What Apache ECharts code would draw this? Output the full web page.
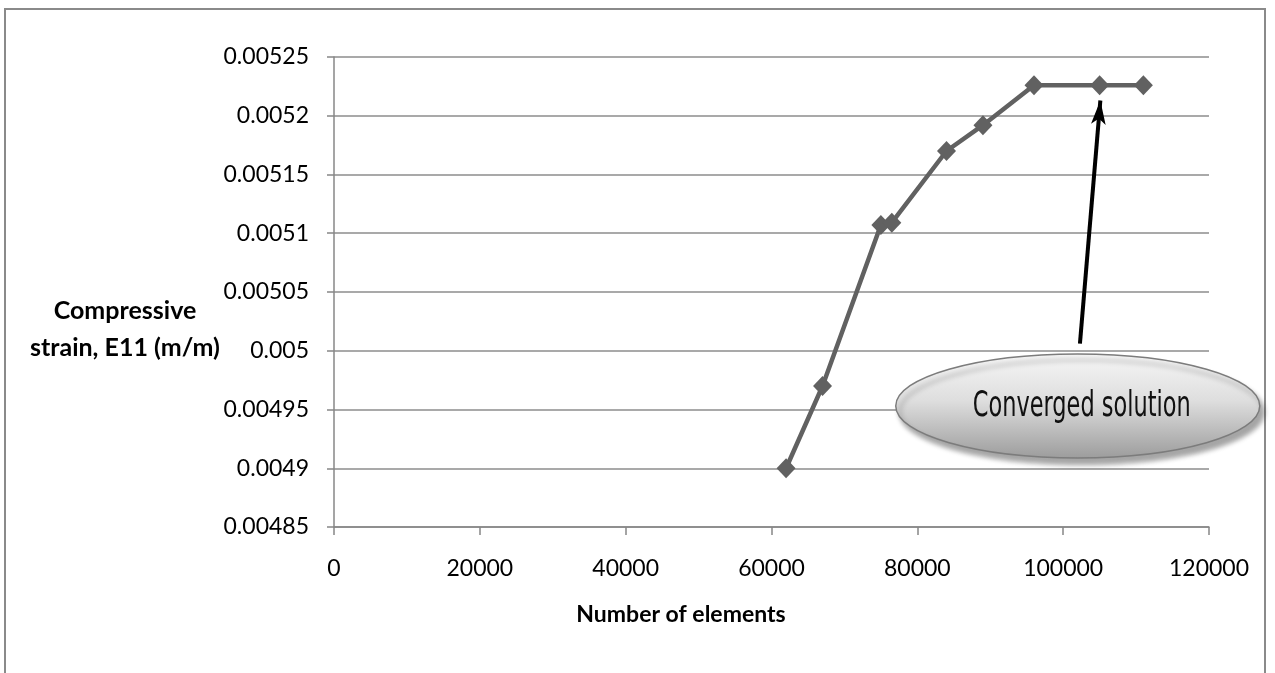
<!DOCTYPE html>
<html>
<head>
<meta charset="utf-8">
<script src="https://cdn.jsdelivr.net/npm/echarts@6/dist/echarts.min.js"></script>
<style>
  html, body { margin: 0; padding: 0; background: #ffffff; }
  #chart { width: 1275px; height: 673px; }
</style>
</head>
<body>
<div id="chart"></div>
<script>
// Mesh convergence study: compressive strain against element count
const elementCounts = [62000, 67000, 75000, 76500, 84000, 89000, 96000, 105000, 111000];
const strainValues  = [0.00490, 0.00497, 0.005107, 0.005109, 0.00517, 0.005192, 0.005226, 0.005226, 0.005226];

const xMin = 0, xMax = 120000, xStep = 20000;
const yMin = 0.00485, yMax = 0.00525, yStep = 0.00005;

const xAxisTitle = 'Number of elements';
const yAxisTitle = ['Compressive', 'strain, E11 (m/m)'];

// Callout: arrow pointing at the plateau and its bubble
const noteText = 'Converged solution';
const arrowFrom = [102300, 0.005006];
const arrowTo   = [105100, 0.005213];
const noteCenter = [102000, 0.004953];

const FONT = 'Lato, "Open Sans", sans-serif';

const chart = echarts.init(document.getElementById('chart'), null, { renderer: 'canvas' });

function fmtY(v) {
  return String(parseFloat(v.toFixed(6)));
}
function fmtX(v) {
  return String(Math.round(v));
}

chart.setOption({
  animation: false,
  backgroundColor: '#ffffff',
  grid: { left: 334, right: 66, top: 57, bottom: 146, containLabel: false },
  xAxis: {
    type: 'value',
    min: xMin, max: xMax, interval: xStep,
    axisLine: { show: true, lineStyle: { color: '#878787', width: 1.5 } },
    axisTick: { show: true, inside: false, length: 8, lineStyle: { color: '#878787', width: 1.5 } },
    axisLabel: { fontFamily: FONT, fontSize: 23, color: '#000', margin: 30, formatter: fmtX },
    splitLine: { show: false }
  },
  yAxis: {
    type: 'value',
    min: yMin, max: yMax, interval: yStep,
    axisLine: { show: true, lineStyle: { color: '#878787', width: 1.5 } },
    axisTick: { show: true, inside: false, length: 7, lineStyle: { color: '#878787', width: 1.5 } },
    axisLabel: { fontFamily: FONT, fontSize: 23, color: '#000', margin: 25, formatter: fmtY },
    splitLine: { show: true, lineStyle: { color: '#8c8c8c', width: 1.5 } }
  },
  series: [{
    type: 'line',
    data: elementCounts.map((x, i) => [x, strainValues[i]]),
    symbol: 'diamond',
    symbolSize: [19, 20],
    showSymbol: true,
    lineStyle: { color: '#616161', width: 4.5 },
    itemStyle: { color: '#616161' },
    z: 3,
    markLine: {
      silent: true,
      symbol: ['none', 'arrow'],
      symbolSize: [11, 24],
      label: { show: false },
      lineStyle: { color: '#000000', width: 4, type: 'solid' },
      data: [[{ coord: arrowFrom }, { coord: arrowTo }]],
      z: 5
    }
  }]
});

// Frame, axis titles and callout bubble, placed from data coordinates
const c = chart.convertToPixel({ gridIndex: 0 }, noteCenter);
const titleAnchor = chart.convertToPixel({ gridIndex: 0 }, [0, 0.005018]);

chart.setOption({
  graphic: [
    {
      type: 'rect', z: 0, silent: true,
      shape: { x: 5, y: 9, width: 1260, height: 700 },
      style: { fill: 'none', stroke: '#8a8a8a', lineWidth: 2 }
    },
    {
      type: 'text', z: 10, silent: true,
      style: {
        x: 125, y: titleAnchor[1],
        text: yAxisTitle.join('\n'),
        textAlign: 'center', textVerticalAlign: 'middle',
        font: 'bold 25px ' + FONT, fill: '#000', lineHeight: 37
      }
    },
    {
      type: 'text', z: 10, silent: true,
      style: {
        x: 681, y: 615,
        text: xAxisTitle,
        textAlign: 'center', textVerticalAlign: 'middle',
        font: 'bold 23px ' + FONT, fill: '#000'
      }
    },
    {
      type: 'ellipse', z: 20, silent: true,
      shape: { cx: c[0], cy: c[1], rx: 182, ry: 52 },
      style: {
        fill: new echarts.graphic.LinearGradient(0, 0, 0, 1, [
          { offset: 0, color: '#f6f6f6' },
          { offset: 0.45, color: '#dedede' },
          { offset: 1, color: '#9c9c9c' }
        ]),
        stroke: '#7c7c7c', lineWidth: 1.5,
        shadowBlur: 5, shadowOffsetX: 4, shadowOffsetY: 6, shadowColor: 'rgba(0,0,0,0.35)'
      }
    },
    {
      type: 'text', z: 21, silent: true,
      x: c[0] + 4, y: c[1] + 1,
      scaleX: 0.86, scaleY: 1.2,
      style: {
        x: 0, y: 0,
        text: noteText,
        textAlign: 'center', textVerticalAlign: 'middle',
        font: '29px "DejaVu Sans Condensed", "Liberation Sans Narrow", sans-serif',
        fill: '#111'
      }
    }
  ]
});
</script>
</body>
</html>
